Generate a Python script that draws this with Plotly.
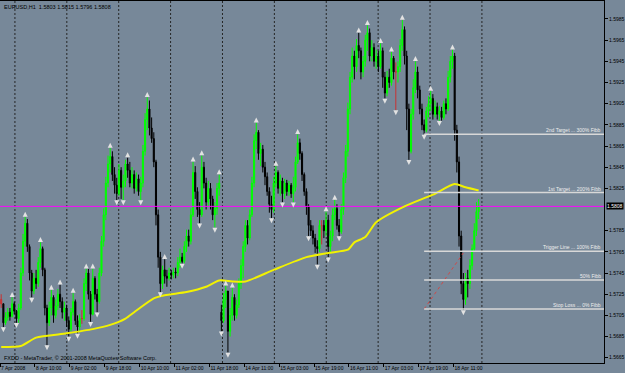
import plotly.graph_objects as go

# ---------------- data (EURUSD H1) ----------------
close = [1.5716,1.5698,1.5703,1.5708,1.5704,1.5716,1.5709,1.5702,1.5712,1.5745,
1.5775,1.5792,1.5770,1.5745,1.5728,1.5740,1.5735,1.5755,1.5768,1.5748,
1.5712,1.5698,1.5712,1.5722,1.5705,1.5714,1.5725,1.5718,1.5708,1.5712,
1.5700,1.5692,1.5708,1.5718,1.5700,1.5694,1.5702,1.5702,1.5735,1.5745,
1.5725,1.5706,1.5740,1.5725,1.5718,1.5745,1.5775,1.5800,1.5830,1.5848,
1.5855,1.5838,1.5828,1.5820,1.5842,1.5826,1.5832,1.5848,1.5842,1.5830,
1.5838,1.5825,1.5834,1.5822,1.5830,1.5860,1.5890,1.5900,1.5882,1.5872,
1.5850,1.5800,1.5760,1.5735,1.5748,1.5742,1.5740,1.5745,1.5743,1.5746,
1.5745,1.5755,1.5760,1.5756,1.5770,1.5780,1.5775,1.5800,1.5840,1.5822,
1.5805,1.5800,1.5845,1.5830,1.5812,1.5825,1.5815,1.5800,1.5806,1.5825,
1.5830,1.5700,1.5720,1.5728,1.5690,1.5705,1.5722,1.5705,1.5715,1.5735,
1.5752,1.5770,1.5790,1.5778,1.5800,1.5830,1.5870,1.5878,1.5858,1.5862,
1.5845,1.5836,1.5822,1.5810,1.5805,1.5830,1.5840,1.5825,1.5832,1.5820,
1.5830,1.5822,1.5828,1.5820,1.5826,1.5850,1.5868,1.5858,1.5838,1.5822,
1.5808,1.5790,1.5785,1.5778,1.5770,1.5768,1.5790,1.5790,1.5785,1.5795,
1.5770,1.5780,1.5800,1.5806,1.5790,1.5784,1.5805,1.5835,1.5860,1.5900,
1.5930,1.5950,1.5940,1.5960,1.5955,1.5935,1.5945,1.5965,1.5972,1.5950,
1.5958,1.5945,1.5950,1.5940,1.5955,1.5930,1.5915,1.5930,1.5925,1.5948,
1.5935,1.5935,1.5940,1.5960,1.5975,1.5950,1.5900,1.5860,1.5895,1.5920,
1.5935,1.5918,1.5900,1.5885,1.5880,1.5898,1.5905,1.5910,1.5895,1.5902,
1.5895,1.5898,1.5892,1.5905,1.5900,1.5930,1.5945,1.5950,1.5880,1.5850,
1.5780,1.5735,1.5720,1.5740,1.5735,1.5752,1.5768,1.5785,1.5803,1.5808]

high = [1.5725,1.5716,1.5708,1.5712,1.5712,1.5722,1.5718,1.5710,1.5716,1.5750,
1.5782,1.5798,1.5796,1.5772,1.5748,1.5745,1.5748,1.5760,1.5774,1.5770,
1.5750,1.5715,1.5718,1.5729,1.5724,1.5720,1.5730,1.5734,1.5722,1.5718,
1.5715,1.5704,1.5712,1.5726,1.5720,1.5705,1.5706,1.5710,1.5740,1.5749,
1.5749,1.5728,1.5749,1.5742,1.5730,1.5750,1.5780,1.5806,1.5836,1.5856,
1.5863,1.5860,1.5845,1.5835,1.5848,1.5845,1.5838,1.5852,1.5854,1.5850,
1.5845,1.5842,1.5840,1.5838,1.5836,1.5866,1.5896,1.5911,1.5908,1.5892,
1.5878,1.5852,1.5805,1.5765,1.5752,1.5758,1.5748,1.5750,1.5748,1.5750,
1.5750,1.5760,1.5768,1.5764,1.5775,1.5786,1.5786,1.5806,1.5850,1.5846,
1.5826,1.5812,1.5856,1.5850,1.5835,1.5832,1.5830,1.5818,1.5812,1.5830,
1.5838,1.5715,1.5726,1.5733,1.5728,1.5712,1.5731,1.5725,1.5720,1.5740,
1.5758,1.5775,1.5795,1.5795,1.5805,1.5836,1.5876,1.5887,1.5880,1.5868,
1.5866,1.5850,1.5840,1.5826,1.5818,1.5836,1.5846,1.5842,1.5838,1.5835,
1.5834,1.5833,1.5832,1.5830,1.5836,1.5855,1.5876,1.5872,1.5860,1.5840,
1.5825,1.5810,1.5795,1.5790,1.5782,1.5776,1.5795,1.5795,1.5795,1.5803,
1.5800,1.5785,1.5806,1.5814,1.5810,1.5796,1.5810,1.5840,1.5866,1.5906,
1.5935,1.5958,1.5955,1.5966,1.5972,1.5958,1.5950,1.5970,1.5979,1.5976,
1.5965,1.5962,1.5956,1.5955,1.5962,1.5958,1.5935,1.5936,1.5938,1.5954,
1.5950,1.5944,1.5945,1.5966,1.5984,1.5978,1.5955,1.5905,1.5900,1.5928,
1.5945,1.5940,1.5922,1.5905,1.5890,1.5902,1.5912,1.5917,1.5914,1.5908,
1.5906,1.5903,1.5902,1.5908,1.5910,1.5936,1.5950,1.5956,1.5953,1.5885,
1.5855,1.5785,1.5745,1.5745,1.5748,1.5758,1.5772,1.5792,1.5812,1.5815]

low = [1.5712,1.5694,1.5696,1.5700,1.5700,1.5703,1.5706,1.5698,1.5698,1.5710,
1.5742,1.5770,1.5765,1.5738,1.5722,1.5725,1.5730,1.5732,1.5750,1.5742,
1.5705,1.5677,1.5695,1.5705,1.5698,1.5702,1.5710,1.5712,1.5702,1.5700,
1.5694,1.5685,1.5690,1.5705,1.5696,1.5688,1.5690,1.5697,1.5700,1.5728,
1.5720,1.5699,1.5705,1.5720,1.5708,1.5716,1.5742,1.5770,1.5795,1.5826,
1.5840,1.5832,1.5820,1.5814,1.5818,1.5815,1.5814,1.5826,1.5835,1.5826,
1.5825,1.5820,1.5822,1.5818,1.5814,1.5826,1.5856,1.5880,1.5875,1.5868,
1.5845,1.5790,1.5750,1.5727,1.5730,1.5735,1.5732,1.5738,1.5739,1.5740,
1.5740,1.5742,1.5750,1.5754,1.5754,1.5765,1.5770,1.5772,1.5798,1.5815,
1.5798,1.5792,1.5798,1.5825,1.5805,1.5808,1.5805,1.5795,1.5788,1.5800,
1.5818,1.5690,1.5698,1.5712,1.5670,1.5685,1.5700,1.5700,1.5702,1.5712,
1.5730,1.5740,1.5765,1.5772,1.5776,1.5798,1.5826,1.5862,1.5852,1.5846,
1.5840,1.5828,1.5818,1.5802,1.5797,1.5802,1.5826,1.5820,1.5818,1.5812,
1.5815,1.5818,1.5818,1.5816,1.5812,1.5822,1.5848,1.5852,1.5832,1.5818,
1.5800,1.5780,1.5780,1.5772,1.5764,1.5753,1.5765,1.5772,1.5778,1.5780,
1.5760,1.5765,1.5775,1.5795,1.5786,1.5780,1.5782,1.5800,1.5830,1.5855,
1.5895,1.5925,1.5928,1.5935,1.5948,1.5928,1.5930,1.5940,1.5955,1.5945,
1.5945,1.5940,1.5938,1.5935,1.5938,1.5920,1.5910,1.5912,1.5920,1.5922,
1.5928,1.5899,1.5925,1.5935,1.5955,1.5942,1.5880,1.5852,1.5858,1.5890,
1.5915,1.5910,1.5895,1.5880,1.5876,1.5878,1.5892,1.5898,1.5890,1.5892,
1.5890,1.5889,1.5889,1.5890,1.5895,1.5898,1.5925,1.5938,1.5870,1.5840,
1.5770,1.5725,1.5710,1.5715,1.5722,1.5730,1.5748,1.5765,1.5780,1.5796]

first_open = 1.5720
gap_opens = {101: 1.5708}          # Monday open after weekend gap
red_bars = [0, 37, 147, 181]       # bars drawn in red (doji colour)

up_fractals = [5, 11, 18, 23, 27, 33, 39, 42, 50, 58, 67, 75, 88, 92, 100, 103, 106,
               117, 126, 136, 149, 153, 164, 168, 174, 179, 184, 190, 197, 207]
down_fractals = [1, 7, 14, 21, 31, 35, 41, 44, 53, 56, 64, 73, 83, 91, 98, 101, 104,
                 124, 129, 134, 141, 145, 150, 155, 176, 181, 187, 194, 201, 212]

ma_bars = [0, 9, 16, 30, 42, 50, 57, 61, 70, 75, 85, 94, 100, 106, 112, 125, 140,
           150, 159, 162, 167, 172, 185, 198, 208, 213, 219]
ma_vals = [1.5675, 1.5676, 1.5684, 1.5688, 1.5692, 1.5696, 1.5702, 1.5708, 1.5721,
           1.5724, 1.5727, 1.5732, 1.5738, 1.5737, 1.5737, 1.5748, 1.5760, 1.5764,
           1.5767, 1.5774, 1.5779, 1.5793, 1.5808, 1.5819, 1.5829, 1.5826, 1.5823]

fib_levels = [1.5876, 1.5821, 1.57655, 1.57385, 1.5711]
fib_labels = ["2nd Target ... 300% Fibb", "1st Target ... 200% Fibb",
              "Trigger Line ... 100% Fibb", "50% Fibb", "Stop Loss ... 0% Fibb"]
fib_start_bar = 194

trend_bars = [194, 212]
trend_vals = [1.5711, 1.5764]

bid_price = 1.5808

x_tick_bars = [-0.5, 15.5, 31.5, 47.5, 63.5, 79.5, 95.5, 111.5, 127.5, 143.5,
               159.5, 175.5, 191.5, 207.5]
x_tick_labels = ["7 Apr 2008", "8 Apr 10:00", "9 Apr 02:00", "9 Apr 18:00",
                 "10 Apr 10:00", "11 Apr 02:00", "11 Apr 18:00", "14 Apr 11:00",
                 "15 Apr 03:00", "15 Apr 19:00", "16 Apr 11:00", "17 Apr 03:00",
                 "17 Apr 19:00", "18 Apr 11:00"]
y_tick_vals = [1.5665, 1.5685, 1.5705, 1.5725, 1.5745, 1.5765, 1.5785, 1.5825,
               1.5845, 1.5865, 1.5885, 1.5905, 1.5925, 1.5945, 1.5965, 1.5985]
grid_bars = [6.3, 30.1, 53.9, 77.7, 101.5, 125.3, 149.1, 172.9, 196.7, 220.5]

# ---------------- build ----------------
n = len(close)
opens = [first_open] + close[:-1]
for k, v in gap_opens.items():
    opens[k] = v
bars = list(range(n))

BG = "#778899"
FONT = "Liberation Sans"
X_RANGE = [-0.55, 276.5]
Y_RANGE = [1.5660, 1.6002]

normal = [i for i in bars if i not in red_bars]

fig = go.Figure()

# bid line (magenta)
fig.add_trace(go.Scatter(x=X_RANGE, y=[bid_price, bid_price], mode="lines",
                         line=dict(color="#FF00FF", width=1), hoverinfo="skip"))

fig.add_trace(go.Scatter(x=ma_bars, y=ma_vals, mode="lines",
                         line=dict(color="#F2F200", width=2, shape="spline",
                                   smoothing=0.6), hoverinfo="skip"))

fig.add_trace(go.Candlestick(
    x=normal, open=[opens[i] for i in normal], high=[high[i] for i in normal],
    low=[low[i] for i in normal], close=[close[i] for i in normal],
    increasing=dict(line=dict(color="#00FF00", width=1), fillcolor="#00FF00"),
    decreasing=dict(line=dict(color="#000000", width=1), fillcolor="#000000"),
    whiskerwidth=0))
fig.add_trace(go.Candlestick(
    x=red_bars, open=[opens[i] for i in red_bars], high=[high[i] for i in red_bars],
    low=[low[i] for i in red_bars], close=[close[i] for i in red_bars],
    increasing=dict(line=dict(color="#C83232", width=1), fillcolor="#C83232"),
    decreasing=dict(line=dict(color="#C83232", width=1), fillcolor="#C83232"),
    whiskerwidth=0))

fig.add_trace(go.Scatter(x=trend_bars, y=trend_vals, mode="lines",
                         line=dict(color="#D04848", width=1, dash="dot")))

off = 0.0005
fig.add_trace(go.Scatter(x=up_fractals, y=[high[i] + off for i in up_fractals],
                         mode="markers",
                         marker=dict(symbol="arrow-up", size=5, color="#E2E2E2",
                                     line=dict(width=0))))
fig.add_trace(go.Scatter(x=down_fractals, y=[low[i] - off for i in down_fractals],
                         mode="markers",
                         marker=dict(symbol="arrow-down", size=5, color="#E2E2E2",
                                     line=dict(width=0))))

shapes = []
for g in grid_bars:
    shapes.append(dict(type="line", xref="x", yref="paper", x0=g, x1=g, y0=0, y1=1,
                       line=dict(color="#262626", width=1, dash="2px,2px"),
                       layer="below"))
for lv in fib_levels:
    shapes.append(dict(type="line", xref="x", yref="y", x0=fib_start_bar, x1=X_RANGE[1],
                       y0=lv, y1=lv, line=dict(color="#D8D8D8", width=1.5)))

annotations = []
for lv, lab in zip(fib_levels, fib_labels):
    annotations.append(dict(xref="paper", yref="y", x=0.998, y=lv, text=lab,
                            showarrow=False, xanchor="right", yanchor="bottom",
                            yshift=-1, font=dict(family=FONT, size=5, color="#EEEEEE")))
o, h, l, c = opens[-1], high[-1], low[-1], close[-1]
annotations.append(dict(xref="paper", yref="paper", x=0.004, y=1, xanchor="left",
                        yanchor="top", yshift=-1, showarrow=False,
                        text=f"EURUSD,H1  {o:.4f} {h:.4f} {l:.4f} {c:.4f}",
                        font=dict(family=FONT, size=5.5, color="#000000")))
annotations.append(dict(xref="paper", yref="paper", x=0.004, y=0.014, xanchor="left",
                        yanchor="middle", showarrow=False,
                        text="FXDD - MetaTrader, © 2001-2008 MetaQuotes Software Corp.",
                        font=dict(family=FONT, size=5.5, color="#000000")))
annotations.append(dict(xref="paper", yref="y", x=1, y=bid_price, xanchor="left",
                        yanchor="middle", xshift=2, showarrow=False,
                        text=f"{bid_price:.4f}", bgcolor="#000000", borderpad=0,
                        font=dict(family=FONT, size=5, color="#FFFFFF")))

fig.update_layout(
    width=625, height=373, margin=dict(l=0, r=21, t=1, b=10, autoexpand=False),
    paper_bgcolor=BG, plot_bgcolor=BG, showlegend=False,
    font=dict(family=FONT, size=5, color="#000000"),
    shapes=shapes, annotations=annotations,
    xaxis=dict(range=X_RANGE, rangeslider=dict(visible=False), showgrid=False,
               zeroline=False, tickmode="array", tickvals=x_tick_bars,
               ticktext=x_tick_labels, ticks="outside", ticklen=3, tickcolor="#000",
               tickangle=0, automargin=False,
               ticklabelposition="outside right", showline=True, linecolor="#000",
               linewidth=1, mirror=True, tickfont=dict(family=FONT, size=5, color="#000")),
    yaxis=dict(range=Y_RANGE, side="right", showgrid=False, zeroline=False,
               tickmode="array", tickvals=y_tick_vals, automargin=False,
               ticktext=[f"{v:.4f}" for v in y_tick_vals], ticks="outside", ticklen=3,
               tickcolor="#000", showline=True, linecolor="#000", linewidth=1,
               mirror=True, tickfont=dict(family=FONT, size=5, color="#000")),
)

fig.write_html("out.html")
